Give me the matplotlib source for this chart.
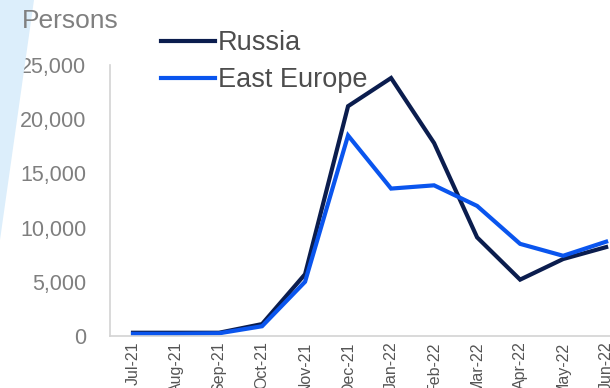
import matplotlib.pyplot as plt
from matplotlib.patches import Polygon

months = ["Jul-21", "Aug-21", "Sep-21", "Oct-21", "Nov-21", "Dec-21",
          "Jan-22", "Feb-22", "Mar-22", "Apr-22", "May-22", "Jun-22"]
russia = [300, 300, 300, 1100, 5700, 21200, 23800, 17800, 9100, 5200, 7100, 8200]
east_europe = [200, 200, 250, 900, 5000, 18500, 13600, 13900, 12000, 8500, 7400, 8700]

plt.rcParams["font.family"] = ["Liberation Sans", "DejaVu Sans"]

fig = plt.figure(figsize=(6.1, 3.88), dpi=100)

# light blue wedge on the left edge
fig.patches.append(Polygon([(0, 1), (34 / 610, 1), (0, 1 - 240 / 388)],
                           closed=True, transform=fig.transFigure,
                           facecolor="#DCEEFB", edgecolor="none", zorder=0))

ax = fig.add_axes([110 / 610, 52 / 388, 1 - 110 / 610, 271 / 388])
ax.patch.set_alpha(0)

x = range(len(months))
ax.plot(x, russia, color="#0B1D4E", lw=3.0, label="Russia", solid_joinstyle="miter")
ax.plot(x, east_europe, color="#0A55EE", lw=3.0, label="East Europe", solid_joinstyle="miter")

ax.set_xlim(-0.535, 11.09)
ax.set_ylim(0, 25000)
ax.set_yticks([0, 5000, 10000, 15000, 20000, 25000])
ax.set_yticklabels(["0", "5,000", "10,000", "15,000", "20,000", "25,000"])
ax.set_xticks(list(x))
ax.set_xticklabels(months, rotation=90, va="top")

ax.tick_params(axis="y", length=0, pad=17, labelsize=15.5, labelcolor="#7F7F7F")
ax.tick_params(axis="x", length=0, pad=4, labelsize=11.5, labelcolor="#555555")

for side in ["top", "right"]:
    ax.spines[side].set_visible(False)
for side in ["left", "bottom"]:
    ax.spines[side].set_color("#D3D3D3")
    ax.spines[side].set_linewidth(1.2)

fig.text(22 / 610, 1 - 21 / 388, "Persons", fontsize=19, color="#808080", va="center")

fig.legend(loc="upper left", bbox_to_anchor=(161 / 610, 1 - 30 / 388),
           frameon=False, fontsize=19.5, handlelength=2.0, handletextpad=0.1,
           labelspacing=0.42, borderpad=0, borderaxespad=0, labelcolor="#4D4D4D")

fig.savefig("out.png", dpi=100)
